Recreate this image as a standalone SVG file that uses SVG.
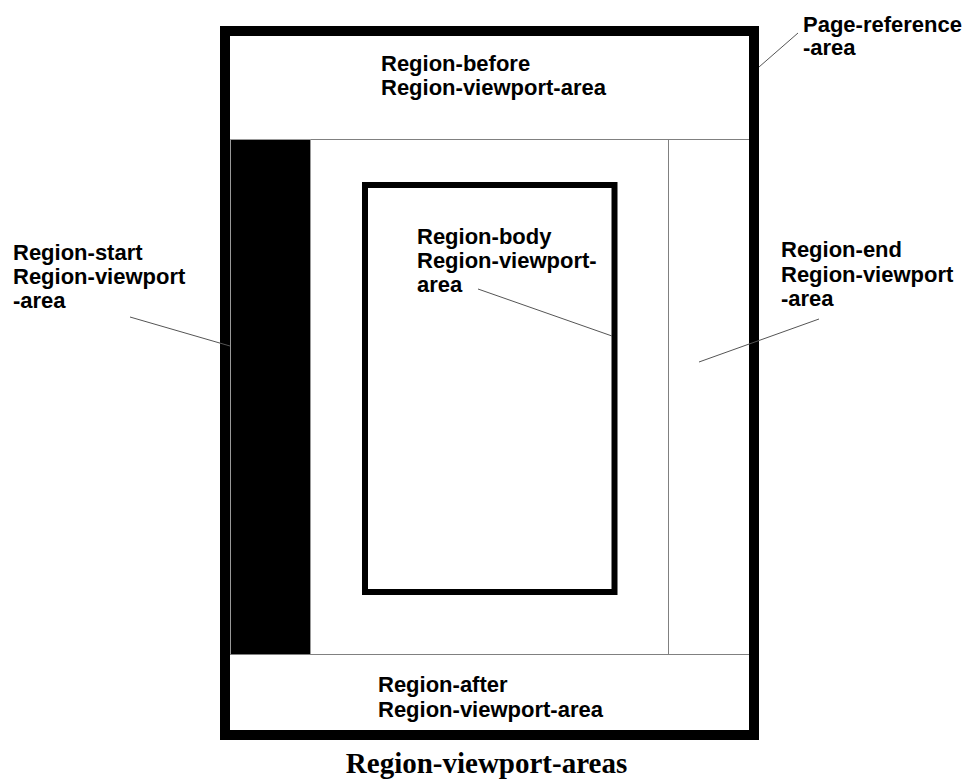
<svg xmlns="http://www.w3.org/2000/svg" width="964" height="779" viewBox="0 0 964 779">
<style>
.lbl{font-family:"Liberation Sans",Arial,sans-serif;font-weight:bold;font-size:22px;fill:#000}
.title{font-family:"Liberation Serif","Times New Roman",serif;font-weight:bold;font-size:29px;fill:#000}
.div{stroke:#808080;stroke-width:1;fill:none}
.lead{stroke:#555;stroke-width:1;fill:none}
</style>
<rect width="964" height="779" fill="#fff"/>
<g id="page-reference-area">
<rect x="225" y="31" width="529" height="704" fill="#fff" stroke="#000" stroke-width="10"/>
</g>
<g id="region-before">
<line class="div" x1="230" y1="139.5" x2="749" y2="139.5"/>
<text class="lbl" x="381" y="71">Region-before</text>
<text class="lbl" x="381" y="95">Region-viewport-area</text>
</g>
<g id="region-start">
<rect x="230.5" y="139.5" width="80" height="515" fill="#000" stroke="#999" stroke-width="1"/>
</g>
<g id="region-end">
<line class="div" x1="668.5" y1="139.5" x2="668.5" y2="654.5"/>
</g>
<g id="region-after">
<line class="div" x1="230" y1="654.5" x2="749" y2="654.5"/>
<text class="lbl" x="378" y="692">Region-after</text>
<text class="lbl" x="378" y="717">Region-viewport-area</text>
</g>
<g id="region-body">
<rect x="365" y="185" width="249.5" height="407" fill="none" stroke="#000" stroke-width="6"/>
<text class="lbl" x="417" y="244">Region-body</text>
<text class="lbl" x="417" y="268">Region-viewport-</text>
<text class="lbl" x="417" y="292">area</text>
</g>
<g id="label-page-reference">
<text class="lbl" x="803" y="32">Page-reference</text>
<text class="lbl" x="803" y="55">-area</text>
</g>
<g id="label-region-start">
<text class="lbl" x="13" y="260">Region-start</text>
<text class="lbl" x="13" y="284">Region-viewport</text>
<text class="lbl" x="13" y="308">-area</text>
</g>
<g id="label-region-end">
<text class="lbl" x="781" y="257">Region-end</text>
<text class="lbl" x="781" y="282">Region-viewport</text>
<text class="lbl" x="781" y="306">-area</text>
</g>
<g id="connectors">
<line class="lead" x1="798" y1="33" x2="759" y2="67"/>
<line class="lead" x1="130" y1="317" x2="230" y2="346"/>
<line class="lead" x1="478" y1="289" x2="612" y2="336"/>
<line class="lead" x1="819" y1="319" x2="699" y2="362"/>
</g>
<text class="title" x="486.5" y="773" text-anchor="middle">Region-viewport-areas</text>
</svg>
